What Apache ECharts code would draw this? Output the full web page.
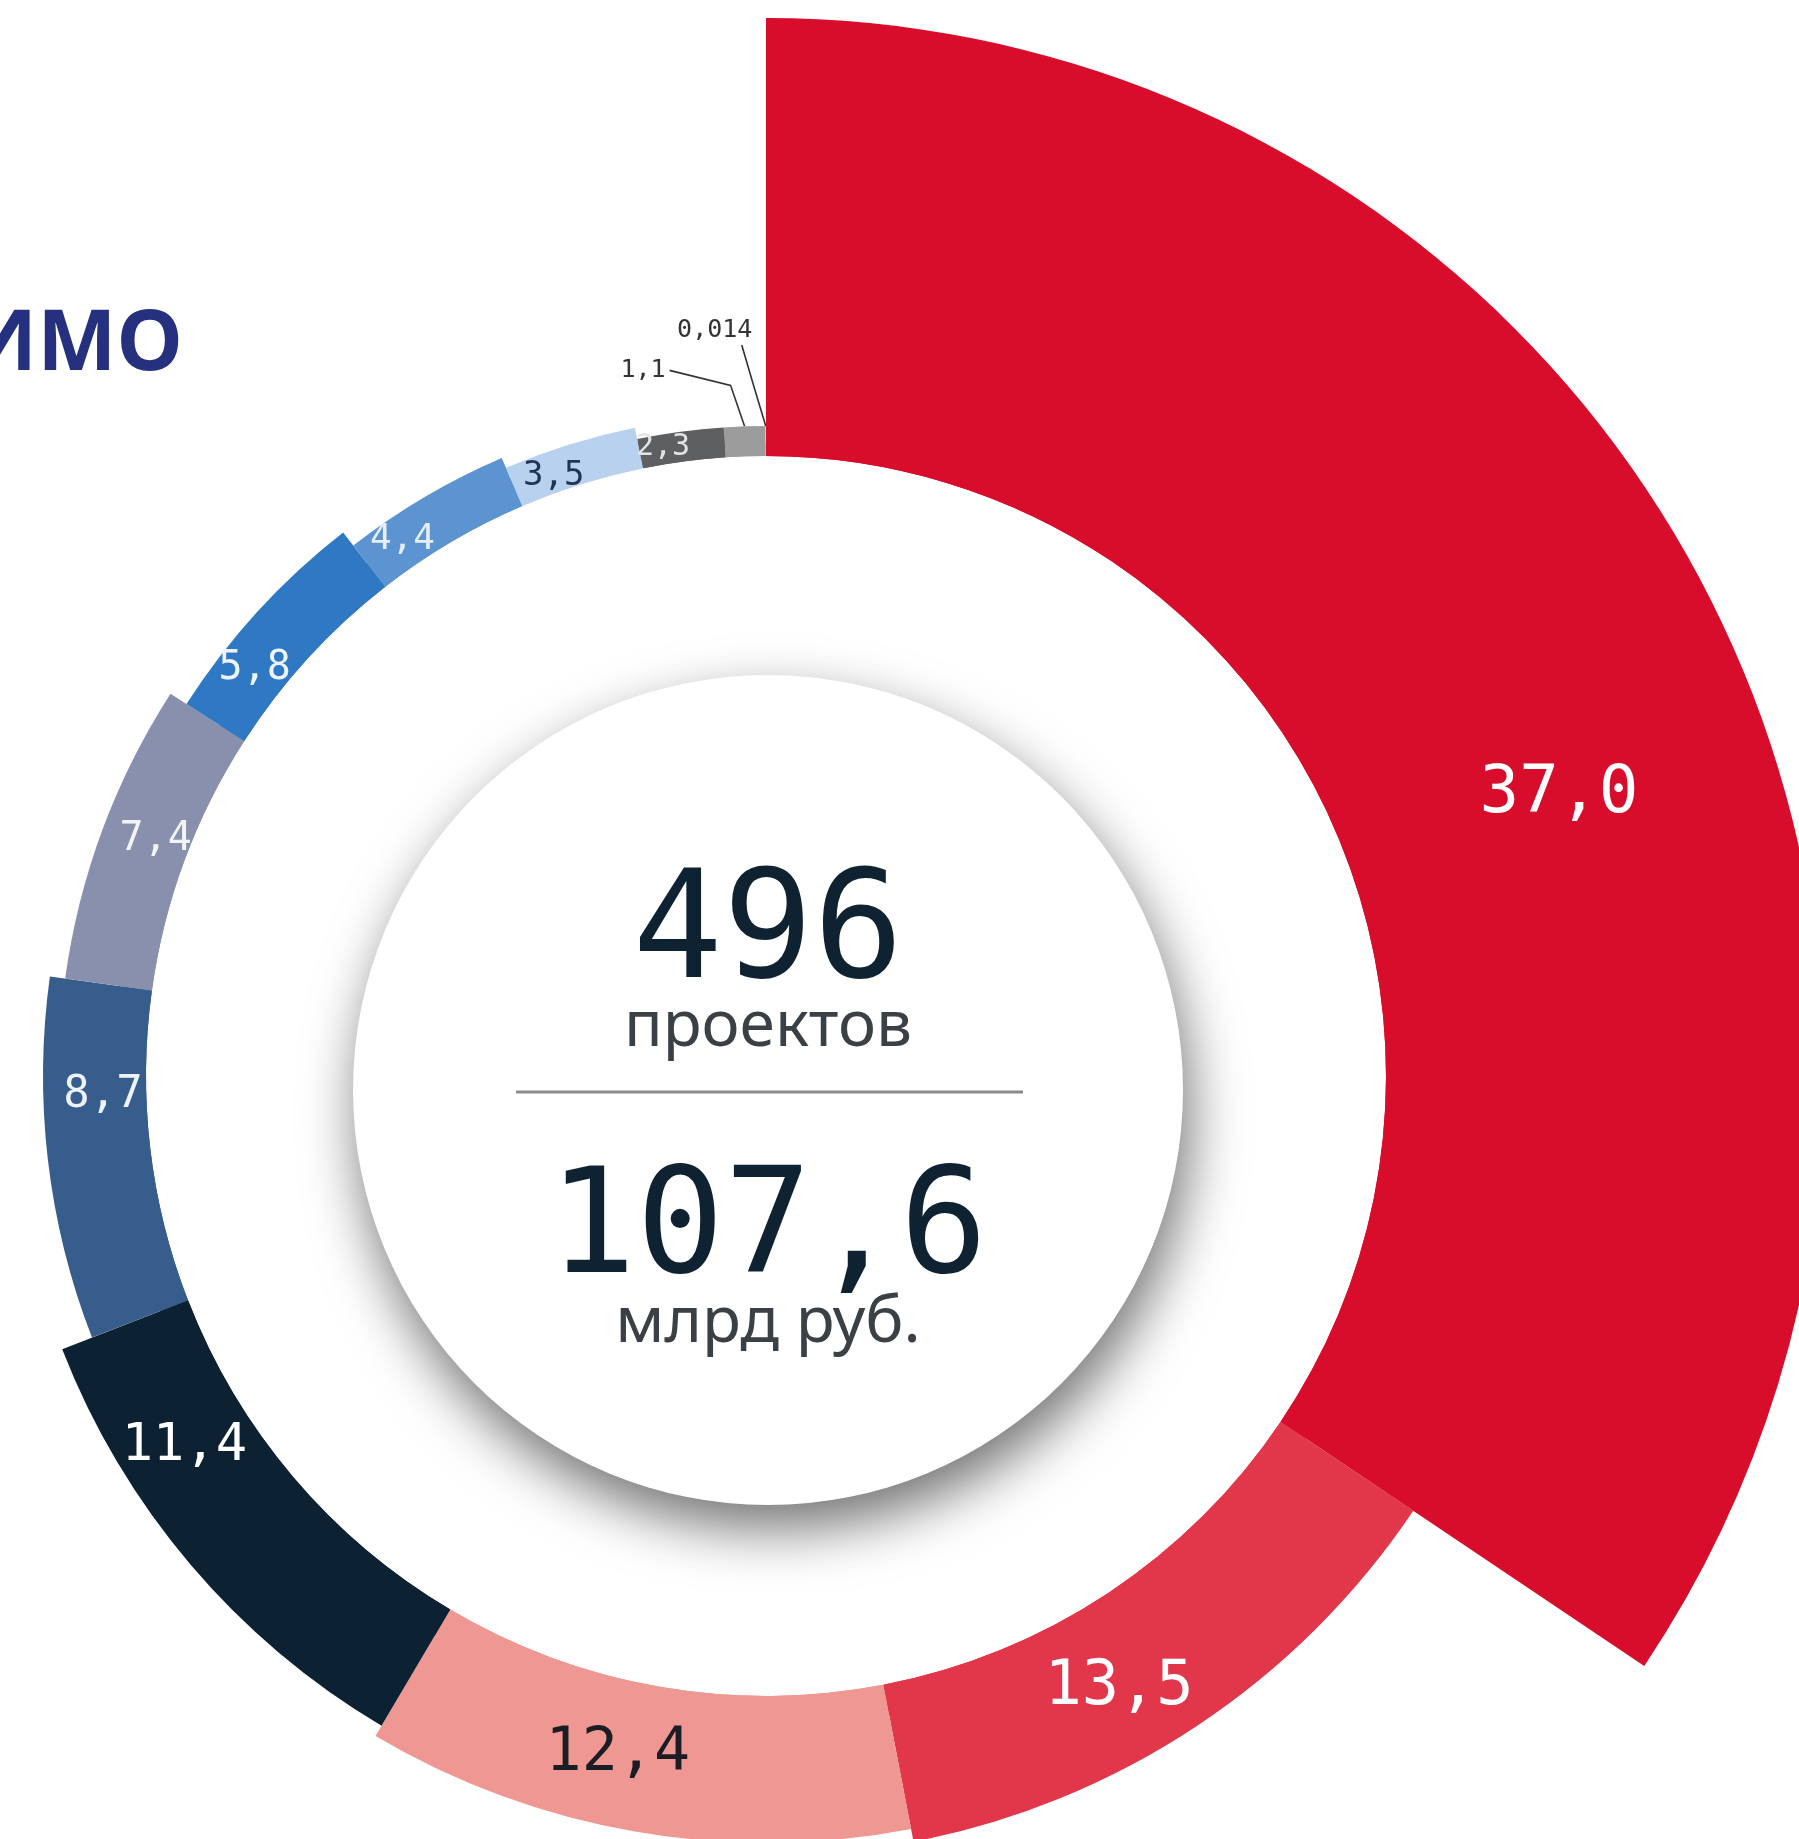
<!DOCTYPE html>
<html lang="ru">
<head>
<meta charset="utf-8">
<title>496 проектов — 107,6 млрд руб.</title>
<script src="https://cdn.jsdelivr.net/npm/echarts@6/dist/echarts.min.js"></script>
<style>
  html, body { margin: 0; padding: 0; background: #fff; }
  #chart { width: 1799px; height: 1839px; }
</style>
</head>
<body>
<div id="chart"></div>
<script>
// суммы, млрд руб. — по часовой стрелке от 12 часов
const values = [37.0, 13.5, 12.4, 11.4, 8.7, 7.4, 5.8, 4.4, 3.5, 2.3, 1.1, 0.014];
const valueLabels = ["37,0", "13,5", "12,4", "11,4", "8,7", "7,4", "5,8", "4,4", "3,5", "2,3", "1,1", "0,014"];

const projectCount = "496";
const projectUnit = "проектов";
const totalAmount = "107,6";
const amountUnit = "млрд руб.";
const headline = "ИМО";

const sliceColors = [
  "#d80c2b", "#e2364a", "#ef9792", "#0c2232", "#375d8c", "#8890ad",
  "#2f78c4", "#5c94d2", "#b7d1ef", "#5e5f61", "#9c9c9c", "#c9c9c9",
];
const labelColors = [
  "#ffffff", "#ffffff", "#1a1d24", "#ffffff", "#eef3fb", "#f3f4f8",
  "#eef4fb", "#e6eef8", "#1f3553", "#e4e4e4", "#333333", "#333333",
];
const labelSizes = [66, 62, 60, 52, 44, 40, 40, 36, 34, 30, 25, 25];

const CENTER = [766, 1076];
const DISK_CENTER = [768, 1090];
const RING_INNER = 620;
const RING_MIN_OUTER = 650;
const ROSE_OUTER = 1058;
const DISK_R = 415;

const NUM_FONT = '"DejaVu Sans Mono", monospace';
const TEXT_FONT = '"Noto Sans", sans-serif';

// выноски для мелких долей: изломы и точка подписи относительно края кольца
const leaders = {
  10: { bends: [[-14, -41], [-75, -56]], text: [-79, -56], align: "right" },
  11: { bends: [[-12, -40], [-24, -81]], text: [-51, -96], align: "center" },
};
// подписи внутри долей сдвинуты так, как в оригинале
const labelShift = {
  0: [50, 115], 1: [-35, 26], 2: [-29, -8], 3: [-55, -76], 4: [7, -59],
  5: [15, -5], 6: [-26, 36], 7: [-34, 23], 8: [-21, 15], 9: [-19, 2],
};

const total = values.reduce((a, b) => a + b, 0);

function ringAnchor(idx) {
  let before = 0;
  for (let i = 0; i < idx; i++) before += values[i];
  const frac = (before + values[idx] / 2) / total;
  const a = frac * Math.PI * 2;
  return [CENTER[0] + RING_MIN_OUTER * Math.sin(a), CENTER[1] - RING_MIN_OUTER * Math.cos(a)];
}

const roseData = values.map((v, i) => {
  const item = {
    value: v,
    name: valueLabels[i],
    itemStyle: { color: sliceColors[i] },
    label: { color: labelColors[i], fontSize: labelSizes[i] },
  };
  if (leaders[i]) {
    item.label.position = "outside";
    item.labelLine = { show: true, lineStyle: { color: "#333", width: 1.6 } };
  }
  return item;
});

const baseData = values.map((v, i) => ({
  value: v,
  name: valueLabels[i],
  itemStyle: { color: sliceColors[i] },
}));

const chart = echarts.init(document.getElementById("chart"), null, { renderer: "canvas" });

chart.setOption({
  animation: false,
  backgroundColor: "#ffffff",
  series: [
    {
      // белый диск с тенью
      type: "pie",
      silent: true,
      center: DISK_CENTER,
      radius: [0, DISK_R],
      label: { show: false },
      labelLine: { show: false },
      itemStyle: {
        color: "#ffffff",
        borderWidth: 0,
        shadowBlur: 55,
        shadowColor: "rgba(0,0,0,0.55)",
        shadowOffsetX: 6,
        shadowOffsetY: 24,
      },
      emphasis: { disabled: true },
      data: [{ value: 1, name: "disk" }],
    },
    {
      // тонкое базовое кольцо, чтобы мелкие доли были видны
      type: "pie",
      silent: true,
      center: CENTER,
      radius: [RING_INNER, RING_MIN_OUTER],
      startAngle: 90,
      clockwise: true,
      padAngle: 0,
      label: { show: false },
      labelLine: { show: false },
      itemStyle: { borderWidth: 0, borderRadius: 0 },
      emphasis: { disabled: true },
      data: baseData,
    },
    {
      type: "pie",
      silent: true,
      roseType: "radius",
      center: CENTER,
      radius: [RING_INNER, ROSE_OUTER],
      startAngle: 90,
      clockwise: true,
      padAngle: 0,
      avoidLabelOverlap: false,
      itemStyle: { borderWidth: 0, borderRadius: 0 },
      label: {
        show: true,
        position: "inside",
        fontFamily: NUM_FONT,
        formatter: (p) => p.name,
      },
      labelLine: { show: false },
      labelLayout: (params) => {
        const i = params.dataIndex;
        const lead = leaders[i];
        if (lead) {
          const s = ringAnchor(i);
          return {
            x: s[0] + lead.text[0],
            y: s[1] + lead.text[1],
            align: lead.align,
            verticalAlign: "middle",
            labelLinePoints: [s].concat(lead.bends.map((d) => [s[0] + d[0], s[1] + d[1]])),
          };
        }
        if (labelShift[i]) {
          return { dx: labelShift[i][0], dy: labelShift[i][1] };
        }
        return {};
      },
      emphasis: { disabled: true },
      data: roseData,
    },
  ],
  graphic: {
    elements: [
      {
        type: "text",
        z: 100,
        x: -32,
        y: 346,
        style: {
          text: headline,
          font: 'bold 84px "Open Sans", sans-serif',
          fill: "#25307f",
          align: "left",
          verticalAlign: "middle",
        },
      },
      {
        type: "text",
        z: 100,
        x: 768,
        y: 938,
        style: {
          text: projectCount,
          font: "150px " + NUM_FONT,
          fill: "#0e2232",
          align: "center",
          verticalAlign: "middle",
        },
      },
      {
        type: "text",
        z: 100,
        x: 768,
        y: 1028,
        style: {
          text: projectUnit,
          font: "64px " + TEXT_FONT,
          fill: "#3b4047",
          align: "center",
          verticalAlign: "middle",
        },
      },
      {
        type: "line",
        z: 100,
        shape: { x1: 516, y1: 1092, x2: 1023, y2: 1092 },
        style: { stroke: "#8c8c8c", lineWidth: 3 },
      },
      {
        type: "text",
        z: 100,
        x: 768,
        y: 1234,
        style: {
          text: totalAmount,
          font: "146px " + NUM_FONT,
          fill: "#0e2232",
          align: "center",
          verticalAlign: "middle",
        },
      },
      {
        type: "text",
        z: 100,
        x: 768,
        y: 1324,
        style: {
          text: amountUnit,
          font: "64px " + TEXT_FONT,
          fill: "#3b4047",
          align: "center",
          verticalAlign: "middle",
        },
      },
    ],
  },
});

window.addEventListener("resize", () => chart.resize());
</script>
</body>
</html>
